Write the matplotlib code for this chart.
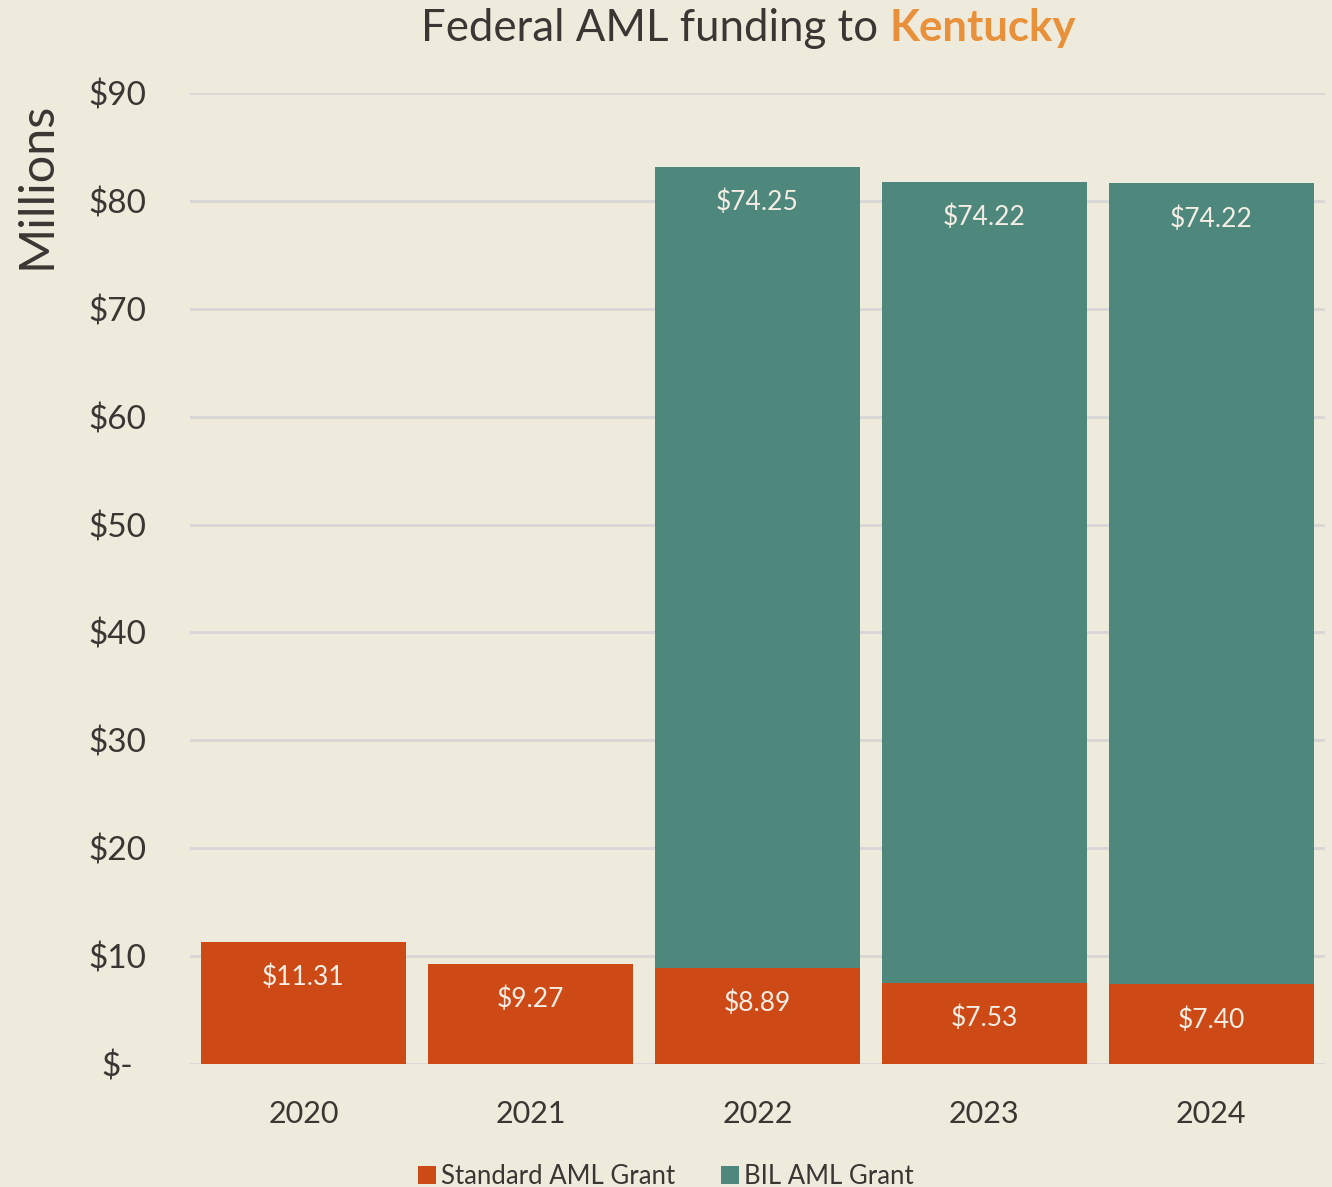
import matplotlib.pyplot as plt
import numpy as np

years = ['2020', '2021', '2022', '2023', '2024']
standard = [11.31, 9.27, 8.89, 7.53, 7.40]
bil = [0, 0, 74.25, 74.22, 74.22]
yticks = [0, 10, 20, 30, 40, 50, 60, 70, 80, 90]
ytick_labels = ['$-', '$10', '$20', '$30', '$40', '$50', '$60', '$70', '$80', '$90']

bg = '#EFEBDC'
orange = '#CD4A17'
teal = '#4E877C'
text_color = '#3B3633'

plt.rcParams['font.family'] = ['Lato', 'DejaVu Sans']

fig = plt.figure(figsize=(13.32, 11.87), dpi=100, facecolor=bg)
ax = fig.add_axes([0.1426, 0.1036, 0.852, 0.818], facecolor=bg)

x = np.arange(len(years))
w = 0.903
ax.bar(x, standard, width=w, color=orange, label='Standard AML Grant', zorder=3)
ax.bar(x, bil, width=w, bottom=standard, color=teal, label='BIL AML Grant', zorder=3)

for i in range(len(years)):
    ax.text(x[i], standard[i] - 3.3, f'${standard[i]:.2f}', ha='center', va='center',
            color='#F4EEE4', fontsize=19, zorder=4)
    if bil[i] > 0:
        top = standard[i] + bil[i]
        ax.text(x[i], top - 3.3, f'${bil[i]:.2f}', ha='center', va='center',
                color='#F4EEE4', fontsize=19, zorder=4)

ax.set_xlim(-0.5, len(years) - 0.5)
ax.set_ylim(0, 90)
ax.set_yticks(yticks)
ax.set_yticklabels(ytick_labels)
ax.set_xticks(x)
ax.set_xticklabels(years)
ax.tick_params(axis='y', length=0, labelsize=24, labelcolor=text_color, pad=52)
ax.tick_params(axis='x', length=0, labelsize=22, labelcolor=text_color, pad=26)
for lbl in ax.get_yticklabels():
    lbl.set_horizontalalignment('center')
ax.grid(axis='y', color='#D8D6D6', linewidth=2, zorder=0)
for s in ax.spines.values():
    s.set_visible(False)

ax.set_ylabel('Millions', fontsize=35, color=text_color)
ax.yaxis.set_label_coords(-0.116, 0.905)

# two-colour title
fig.canvas.draw()
t1 = fig.text(0.316, 0.976, 'Federal AML funding to ', fontsize=31.5, color=text_color,
              ha='left', va='center')
bb = t1.get_window_extent(renderer=fig.canvas.get_renderer())
fig.text(bb.x1 / fig.bbox.width, 0.976, 'Kentucky', fontsize=31.5, color='#E8903A',
         fontweight='bold', ha='left', va='center')

fig.legend(loc='center', bbox_to_anchor=(0.5, 0.009), ncol=2, frameon=False,
           fontsize=18.5, labelcolor=text_color, handlelength=0.7, handleheight=0.7,
           handletextpad=0.2, columnspacing=1.8)

plt.savefig('out.png', dpi=100, facecolor=bg)
